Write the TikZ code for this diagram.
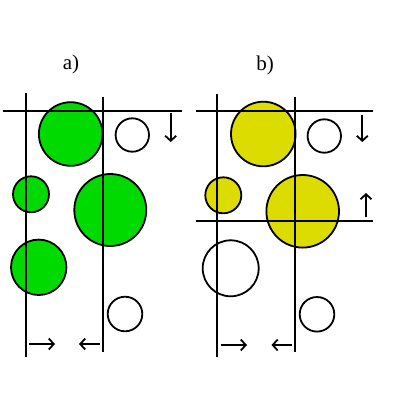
\documentclass[tikz,border=0pt]{standalone}
\usepackage{fontspec}
\setmainfont{Liberation Serif}
\usetikzlibrary{arrows.meta}
\definecolor{gr}{RGB}{0,218,0}
\definecolor{ye}{RGB}{220,220,0}
\begin{document}
\begin{tikzpicture}[x=1pt,y=-1pt,
  ln/.style={line width=2pt},
  circ/.style={circle,draw,line width=1.8pt,inner sep=0pt,minimum size=#1},
  arr/.style={line width=1.8pt,-{Straight Barb[length=5pt,width=11pt]}},
  lab/.style={font=\fontsize{21}{21}\selectfont}]
\useasboundingbox (0,0) rectangle (400,400);
% panel a
\node[lab] (la) at (71,64) {a)};
\node[circ=63.6pt,fill=gr] (a1) at (70.7,134) {};
\node[circ=33.4pt] (a2) at (132.3,135) {};
\node[circ=36pt,fill=gr] (a3) at (31,194.3) {};
\node[circ=72pt,fill=gr] (a4) at (110.3,210) {};
\node[circ=55.4pt,fill=gr] (a5) at (38.7,267.3) {};
\node[circ=34.6pt] (a6) at (125,314) {};
\coordinate (ah1) at (3,110.7); \coordinate (ah2) at (182,110.7);
\coordinate (av1) at (26,93); \coordinate (av2) at (26,357);
\coordinate (aw1) at (102.7,97); \coordinate (aw2) at (102.7,352);
\draw[ln] (ah1) -- (ah2);
\draw[ln] (av1) -- (av2);
\draw[ln] (aw1) -- (aw2);
\coordinate (ad1) at (170.7,113); \coordinate (ad2) at (170.7,142);
\draw[arr] (ad1) -- (ad2);
\coordinate (ar1) at (29,344); \coordinate (ar2) at (55,344);
\draw[arr] (ar1) -- (ar2);
\coordinate (al1) at (99.5,344); \coordinate (al2) at (79,344);
\draw[arr] (al1) -- (al2);
% panel b
\node[lab] (lb) at (265,65) {b)};
\node[circ=64.6pt,fill=ye] (b1) at (263.3,134) {};
\node[circ=33.4pt] (b2) at (324.3,136) {};
\node[circ=36pt,fill=ye] (b3) at (223.3,195.3) {};
\node[circ=72.6pt,fill=ye] (b4) at (302.7,211.3) {};
\node[circ=56pt] (b5) at (230.7,268.3) {};
\node[circ=34.6pt] (b6) at (317,314.3) {};
\coordinate (bh1) at (196,111.3); \coordinate (bh2) at (373.3,111.3);
\coordinate (bg1) at (196,221); \coordinate (bg2) at (373.3,221);
\coordinate (bv1) at (217.3,94); \coordinate (bv2) at (217.3,357);
\coordinate (bw1) at (295.3,97); \coordinate (bw2) at (295.3,352);
\draw[ln] (bh1) -- (bh2);
\draw[ln] (bg1) -- (bg2);
\draw[ln] (bv1) -- (bv2);
\draw[ln] (bw1) -- (bw2);
\coordinate (bd1) at (362.3,115); \coordinate (bd2) at (362.3,142);
\draw[arr] (bd1) -- (bd2);
\coordinate (bu1) at (366,217) ; \coordinate (bu2) at (366,193);
\draw[arr] (bu1) -- (bu2);
\coordinate (br1) at (221,345); \coordinate (br2) at (247,345);
\draw[arr] (br1) -- (br2);
\coordinate (bl1) at (292,345); \coordinate (bl2) at (271.5,345);
\draw[arr] (bl1) -- (bl2);
\end{tikzpicture}
\end{document}
